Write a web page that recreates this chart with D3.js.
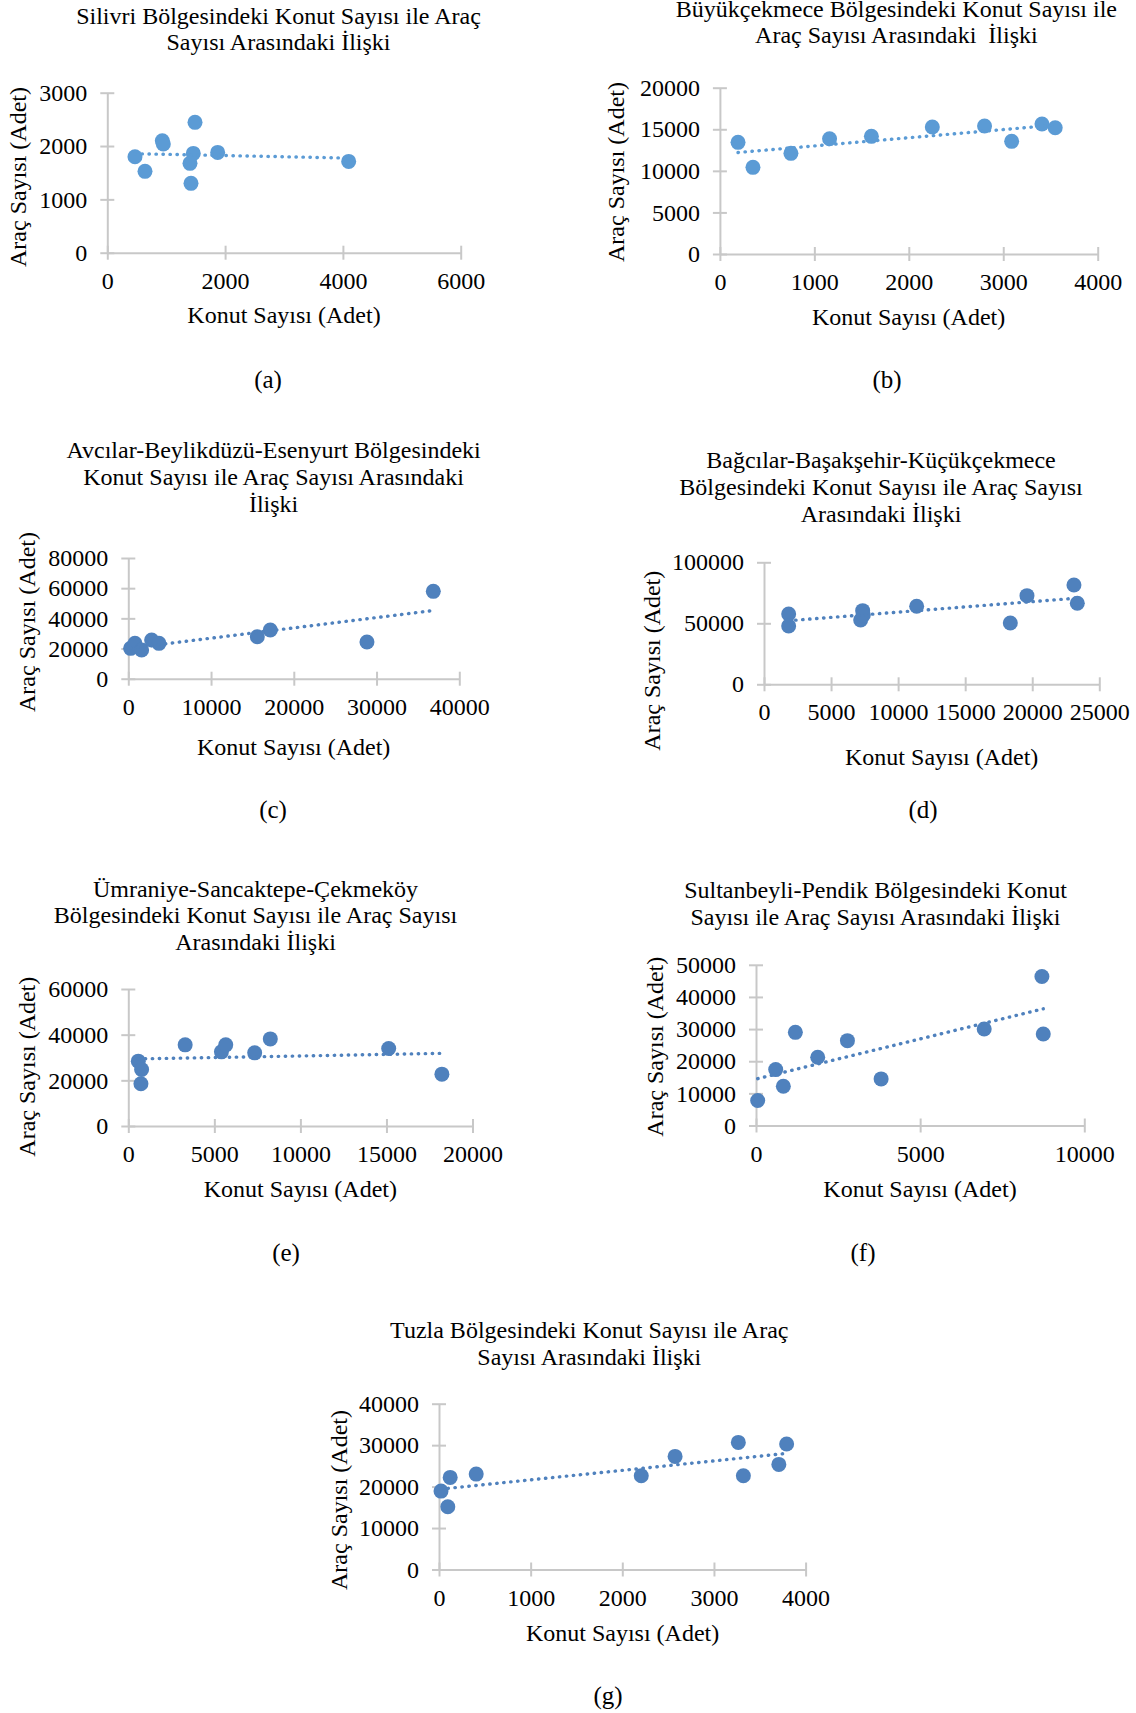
<!DOCTYPE html>
<html>
<head>
<meta charset="utf-8">
<script src="https://cdn.jsdelivr.net/npm/d3@7"></script>
<style>
  body { margin: 0; background: #fff; }
  svg { display: block; font-family: "Liberation Serif", "Times New Roman", serif; }
  text { white-space: pre; }
</style>
</head>
<body>
<svg id="chart" width="1136" height="1713"></svg>
<script>
// (a) Silivri
const silivriKonut = [470, 640, 934, 951, 1489, 1460, 1404, 1421, 1874, 4098];
const silivriArac = [1800, 1525, 2100, 2037, 2444, 1862, 1675, 1300, 1881, 1712];
const silivriXTicks = [0, 2000, 4000, 6000];
const silivriYTicks = [0, 1000, 2000, 3000];

// (b) Büyükçekmece
const buyukKonut = [192, 350, 752, 1161, 1604, 2249, 2802, 3089, 3410, 3550];
const buyukArac = [13427, 10421, 12104, 13868, 14148, 15271, 15391, 13547, 15631, 15190];
const buyukXTicks = [0, 1000, 2000, 3000, 4000];
const buyukYTicks = [0, 5000, 10000, 15000, 20000];

// (c) Avcılar-Beylikdüzü-Esenyurt
const avcilarKonut = [282, 805, 1611, 2820, 3706, 15589, 17160, 28842, 36858];
const avcilarArac = [20110, 23425, 19005, 25635, 23425, 27845, 32265, 24309, 57900];
const avcilarXTicks = [0, 10000, 20000, 30000, 40000];
const avcilarYTicks = [0, 20000, 40000, 60000, 80000];

// (d) Bağcılar-Başakşehir-Küçükçekmece
const bagcilarKonut = [1839, 1839, 7207, 7356, 7406, 11382, 18365, 19607, 23111, 23360];
const bagcilarArac = [57650, 47814, 52732, 60383, 56831, 63934, 50273, 72678, 81421, 66393];
const bagcilarXTicks = [0, 5000, 10000, 15000, 20000, 25000];
const bagcilarYTicks = [0, 50000, 100000];

// (e) Ümraniye-Sancaktepe-Çekmeköy
const umraniyeKonut = [580, 773, 734, 3304, 5411, 5662, 7343, 8251, 15130, 18222];
const umraniyeArac = [28398, 24757, 18495, 35534, 32476, 35534, 32039, 38155, 33932, 22718];
const umraniyeXTicks = [0, 5000, 10000, 15000, 20000];
const umraniyeYTicks = [0, 20000, 40000, 60000];

// (f) Sultanbeyli-Pendik
const sultanKonut = [51, 600, 833, 1199, 1880, 2785, 3811, 6951, 8709, 8750];
const sultanArac = [7764, 17391, 12215, 28986, 21222, 26398, 14493, 30021, 46377, 28468];
const sultanXTicks = [0, 5000, 10000];
const sultanYTicks = [0, 10000, 20000, 30000, 40000, 50000];

// (g) Tuzla
const tuzlaKonut = [22, 96, 122, 406, 2207, 2576, 3266, 3321, 3708, 3793];
const tuzlaArac = [18913, 15131, 22213, 23018, 22616, 27284, 30664, 22616, 25352, 30262];
const tuzlaXTicks = [0, 1000, 2000, 3000, 4000];
const tuzlaYTicks = [0, 10000, 20000, 30000, 40000];

const titles = [
    ["Silivri Bölgesindeki Konut Sayısı ile Araç", "Sayısı Arasındaki İlişki"],
    ["Büyükçekmece Bölgesindeki Konut Sayısı ile", "Araç Sayısı Arasındaki  İlişki"],
    ["Avcılar-Beylikdüzü-Esenyurt Bölgesindeki", "Konut Sayısı ile Araç Sayısı Arasındaki", "İlişki"],
    ["Bağcılar-Başakşehir-Küçükçekmece", "Bölgesindeki Konut Sayısı ile Araç Sayısı", "Arasındaki İlişki"],
    ["Ümraniye-Sancaktepe-Çekmeköy", "Bölgesindeki Konut Sayısı ile Araç Sayısı", "Arasındaki İlişki"],
    ["Sultanbeyli-Pendik Bölgesindeki Konut", "Sayısı ile Araç Sayısı Arasındaki İlişki"],
    ["Tuzla Bölgesindeki Konut Sayısı ile Araç", "Sayısı Arasındaki İlişki"]
];
const captions = ["(a)", "(b)", "(c)", "(d)", "(e)", "(f)", "(g)"];
const xAxisTitle = "Konut Sayısı (Adet)";
const yAxisTitle = "Araç Sayısı (Adet)";

const lightBlue = "#5B9BD5";
const darkBlue = "#4F81BD";

// layout of each panel (pixels on the page)
const panels = [
    { x: silivriKonut, y: silivriArac, xt: silivriXTicks, yt: silivriYTicks, color: lightBlue,
      px: [107.3, 460.7], py: [252.7, 92.7], tx: 278.5, ty: 23.5, xl: [284, 323], yl: [18, 177], cap: [268, 388] },
    { x: buyukKonut, y: buyukArac, xt: buyukXTicks, yt: buyukYTicks, color: lightBlue,
      px: [719.9, 1097.7], py: [254, 87.7], tx: 896.4, ty: 16.5, xl: [908.6, 325], yl: [616, 172], cap: [887, 388] },
    { x: avcilarKonut, y: avcilarArac, xt: avcilarXTicks, yt: avcilarYTicks, color: darkBlue,
      px: [128.3, 459.3], py: [678.7, 558], tx: 273.6, ty: 458.3, xl: [293.7, 755], yl: [26.7, 622], cap: [273, 818] },
    { x: bagcilarKonut, y: bagcilarArac, xt: bagcilarXTicks, yt: bagcilarYTicks, color: darkBlue,
      px: [764, 1099.3], py: [684.3, 562.3], tx: 881, ty: 468.3, xl: [941.7, 765], yl: [652, 660.7], cap: [923, 818] },
    { x: umraniyeKonut, y: umraniyeArac, xt: umraniyeXTicks, yt: umraniyeYTicks, color: darkBlue,
      px: [128.3, 472.5], py: [1126, 989], tx: 255.5, ty: 896.7, xl: [300.3, 1197], yl: [26.7, 1066.7], cap: [286, 1261] },
    { x: sultanKonut, y: sultanArac, xt: sultanXTicks, yt: sultanYTicks, color: darkBlue,
      px: [756, 1084.3], py: [1125.5, 964.8], tx: 875.5, ty: 898, xl: [920, 1197], yl: [655, 1046.7], cap: [863, 1261] },
    { x: tuzlaKonut, y: tuzlaArac, xt: tuzlaXTicks, yt: tuzlaYTicks, color: darkBlue,
      px: [439, 805.6], py: [1569.5, 1403.7], tx: 589.3, ty: 1338.3, xl: [622.6, 1641], yl: [338.7, 1500], cap: [608, 1704] }
];

const svg = d3.select("#chart");
const fontSize = 24;
const lineHeight = 26.7;
const axisColor = "#c8c8c8";

// least squares line, like the Excel linear trendline
function linearFit(xs, ys) {
    const mx = d3.mean(xs), my = d3.mean(ys);
    let num = 0, den = 0;
    xs.forEach((x, i) => {
        num += (x - mx) * (ys[i] - my);
        den += (x - mx) * (x - mx);
    });
    const slope = num / den;
    return x => my + slope * (x - mx);
}

function drawPanel(p, i) {
    const x = d3.scaleLinear().domain([0, d3.max(p.xt)]).range(p.px);
    const y = d3.scaleLinear().domain([0, d3.max(p.yt)]).range(p.py);
    const g = svg.append("g").attr("class", "panel");

    // title
    g.append("text")
        .attr("x", p.tx)
        .attr("y", p.ty)
        .attr("text-anchor", "middle")
        .style("font-size", fontSize + "px")
        .selectAll("tspan")
        .data(titles[i])
        .enter()
        .append("tspan")
        .attr("x", p.tx)
        .attr("dy", (d, k) => k === 0 ? 0 : lineHeight)
        .text(d => d);

    // axes, ticks cross the axis line
    const xAxis = g.append("g")
        .attr("transform", `translate(0,${p.py[0]})`)
        .call(d3.axisBottom(x).tickValues(p.xt).tickFormat(d3.format("d"))
            .tickSizeOuter(0).tickSizeInner(7).tickPadding(12));
    const yAxis = g.append("g")
        .attr("transform", `translate(${p.px[0]},0)`)
        .call(d3.axisLeft(y).tickValues(p.yt).tickFormat(d3.format("d"))
            .tickSizeOuter(0).tickSizeInner(7).tickPadding(13));

    xAxis.selectAll(".tick line").attr("y1", -7);
    yAxis.selectAll(".tick line").attr("x1", 7);
    [xAxis, yAxis].forEach(a => {
        a.select(".domain").attr("stroke", axisColor).attr("stroke-width", 2);
        a.selectAll(".tick line").attr("stroke", axisColor).attr("stroke-width", 2);
        a.selectAll(".tick text")
            .attr("fill", "#000")
            .style("font-family", "'Liberation Serif', 'Times New Roman', serif")
            .style("font-size", fontSize + "px");
    });

    // axis titles
    g.append("text")
        .attr("x", p.xl[0])
        .attr("y", p.xl[1])
        .attr("text-anchor", "middle")
        .style("font-size", fontSize + "px")
        .text(xAxisTitle);
    g.append("text")
        .attr("transform", `translate(${p.yl[0]},${p.yl[1]}) rotate(-90)`)
        .attr("text-anchor", "middle")
        .attr("dy", "0.35em")
        .style("font-size", fontSize + "px")
        .text(yAxisTitle);

    // points
    const pts = p.x.map((v, k) => ({ konut: v, arac: p.y[k] }));
    g.selectAll("circle.dot")
        .data(pts)
        .enter()
        .append("circle")
        .attr("class", "dot")
        .attr("cx", d => x(d.konut))
        .attr("cy", d => y(d.arac))
        .attr("r", 7.5)
        .style("fill", p.color);

    // dotted trendline
    const fit = linearFit(p.x, p.y);
    const ext = d3.extent(p.x);
    g.append("line")
        .attr("x1", x(ext[0]))
        .attr("y1", y(fit(ext[0])))
        .attr("x2", x(ext[1]))
        .attr("y2", y(fit(ext[1])))
        .style("stroke", p.color)
        .style("stroke-width", 3.4)
        .style("stroke-linecap", "round")
        .style("stroke-dasharray", "0.4 6.6");

    // caption under the panel
    g.append("text")
        .attr("x", p.cap[0])
        .attr("y", p.cap[1])
        .attr("text-anchor", "middle")
        .style("font-size", "25px")
        .text(captions[i]);
}

panels.forEach(drawPanel);
</script>
</body>
</html>
